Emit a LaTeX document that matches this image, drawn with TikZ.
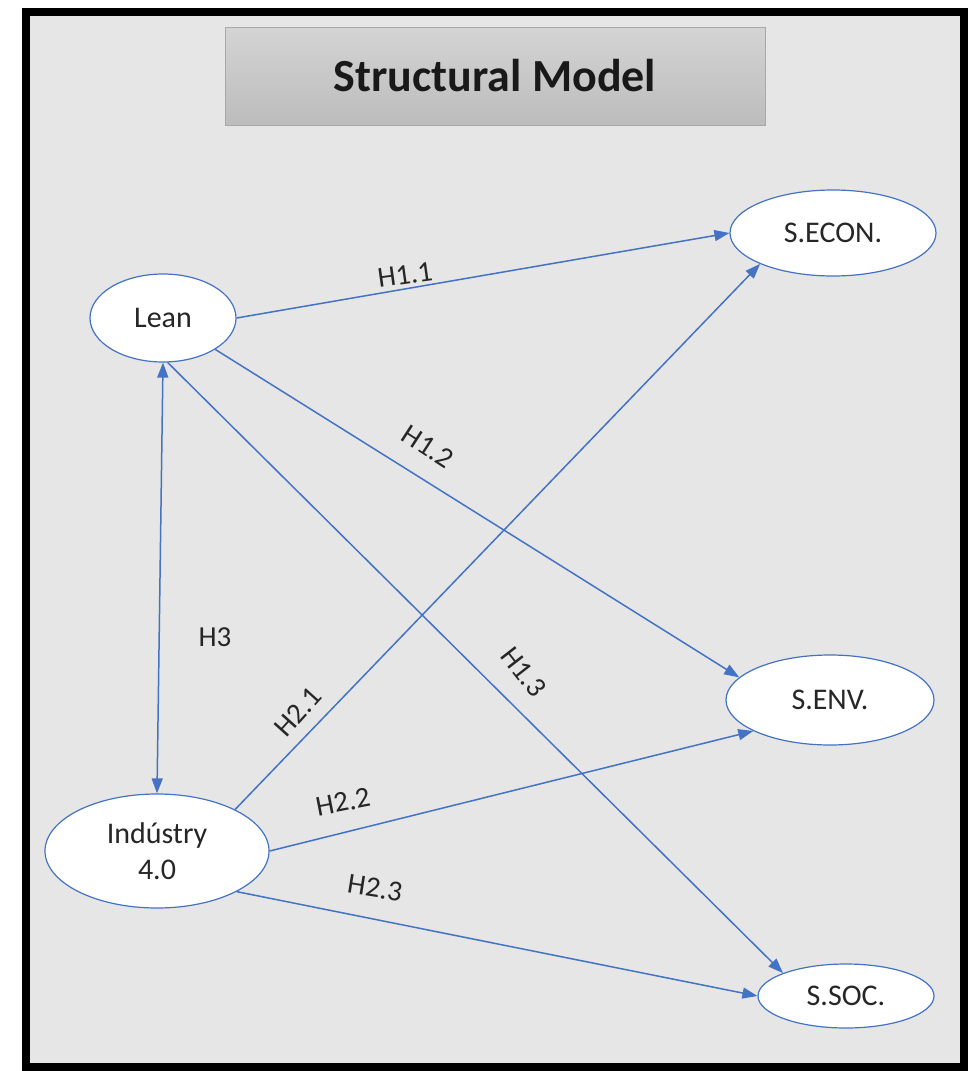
\documentclass[tikz,border=0pt]{standalone}
\usepackage{fontspec}
\setmainfont{Carlito}
\usetikzlibrary{shapes.geometric,arrows.meta}
\definecolor{linkblue}{HTML}{4472C4}
\definecolor{panelgray}{HTML}{E6E6E6}
\definecolor{titletop}{HTML}{D4D4D4}
\definecolor{titlebot}{HTML}{BCBCBC}
\definecolor{titleedge}{HTML}{A8A8A8}
\tikzset{
  construct/.style={ellipse, draw=linkblue, line width=1.2pt, fill=white, inner sep=0pt,
    font=\fontsize{30}{36}\selectfont, text=black!85, align=center},
  path/.style={draw=linkblue, line width=1.5pt, -{Triangle[length=15pt,width=11pt]}},
  hyp/.style={font=\fontsize{29}{34}\selectfont, text=black!85, inner sep=0pt}
}
\begin{document}
\begin{tikzpicture}[x=1pt,y=-1pt]
  \useasboundingbox (0,0) rectangle (971,1071);
  % outer frame and panel
  \fill[white] (0,0) rectangle (971,1071);
  \draw[fill=panelgray, line width=8pt] (26,12) rectangle (963.5,1067);
  % title box
  \shade[top color=titletop, bottom color=titlebot, draw=titleedge, line width=1pt]
    (225,27) rectangle (765,125);
  \node[font=\bfseries\fontsize{46}{54}\selectfont, text=black!90] (title) at (495,76) {Structural Model};

  % constructs
  \node[construct, minimum width=146pt, minimum height=88pt] (lean) at (163,318) {Lean};
  \node[construct, minimum width=224pt, minimum height=114pt] (ind) at (157,851) {Indústry\\4.0};
  \node[construct, minimum width=206pt, minimum height=86pt] (secon) at (833,233) {S.ECON.};
  \node[construct, minimum width=208pt, minimum height=90pt] (senv) at (830,700) {S.ENV.};
  \node[construct, minimum width=176pt, minimum height=64pt] (ssoc) at (846,996) {S.SOC.};

  % hypothesised paths
  \draw[path] (lean.east) -- (secon.west);
  \draw[path] (lean.-31) -- (senv.166);
  \draw[path] (lean.-84) -- (ssoc.160);
  \draw[path, {Triangle[length=15pt,width=11pt]}-{Triangle[length=15pt,width=11pt]}] (lean.south) -- (ind.north);
  \draw[path] (ind.28) -- (secon.203);
  \draw[path] (ind.east) -- (senv.202);
  \draw[path] (ind.-27) -- (ssoc.west);

  % hypothesis labels
  \node[hyp, rotate=8] (h11) at (405,275) {H1.1};
  \node[hyp, rotate=-33] (h12) at (428,447) {H1.2};
  \node[hyp, rotate=-52] (h13) at (524,672) {H1.3};
  \node[hyp] (h3) at (215,637) {H3};
  \node[hyp, rotate=48] (h21) at (298,712) {H2.1};
  \node[hyp, rotate=11] (h22) at (343,802) {H2.2};
  \node[hyp, rotate=-9] (h23) at (375,888) {H2.3};
\end{tikzpicture}
\end{document}
